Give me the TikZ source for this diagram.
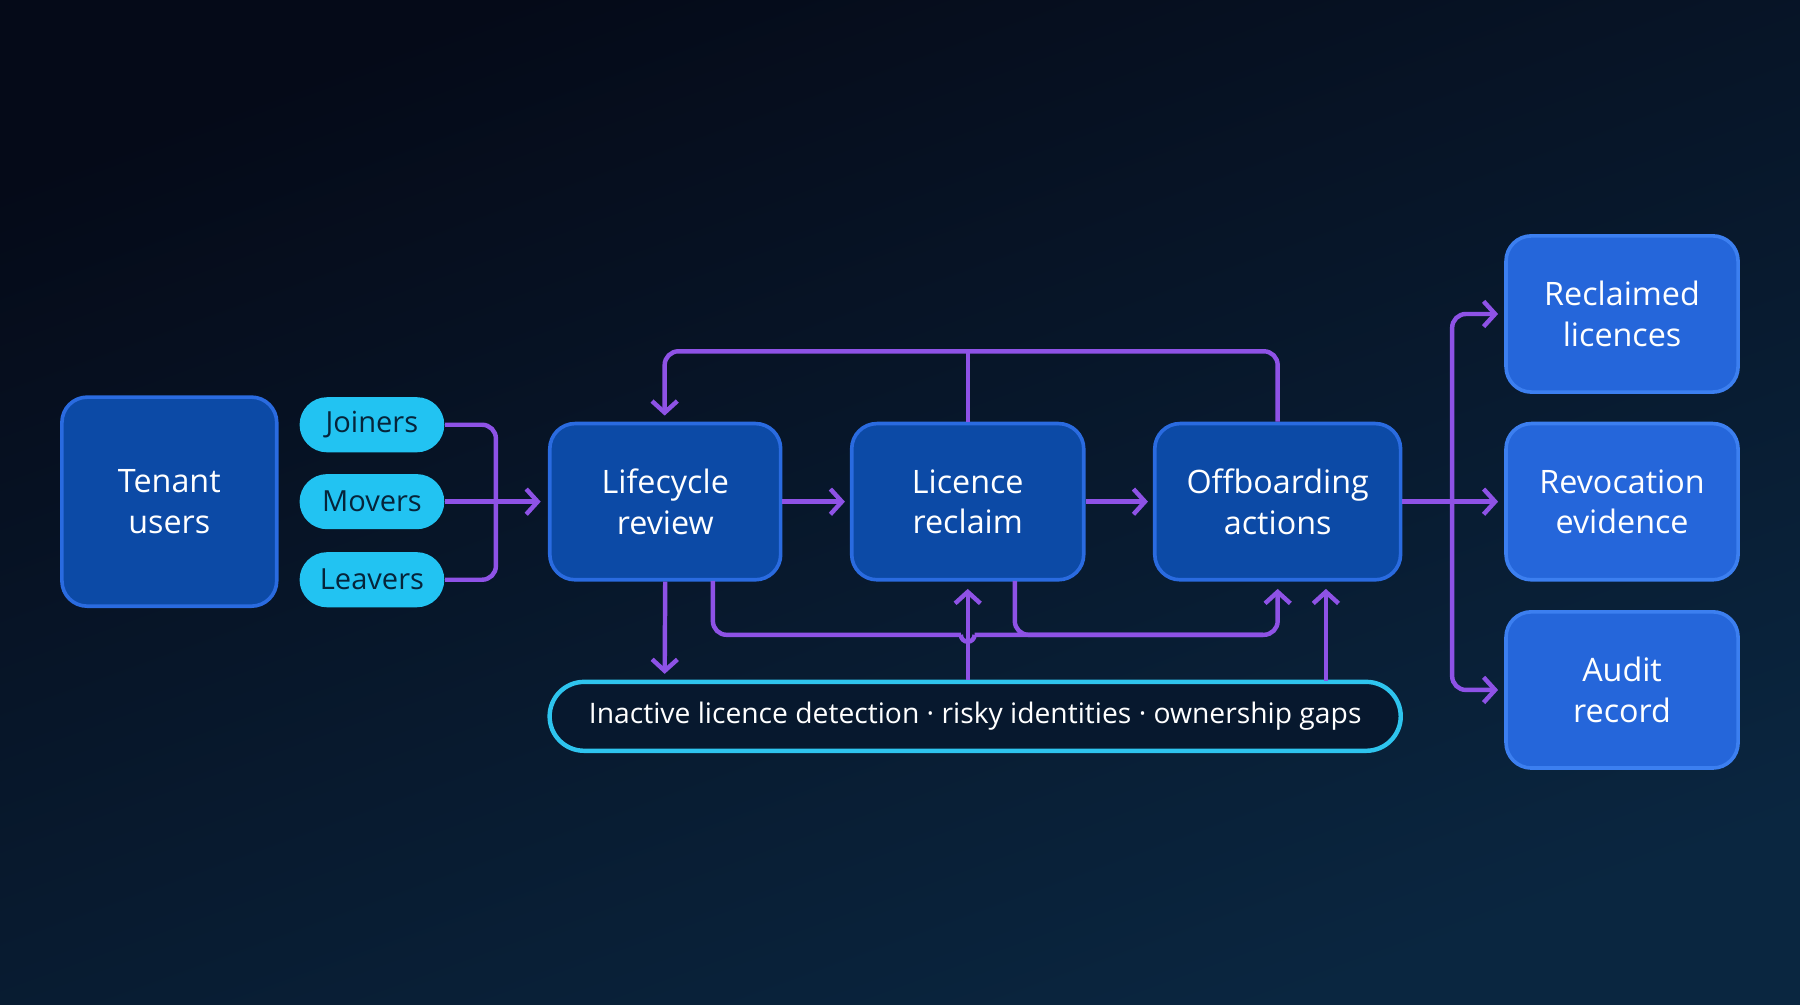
\documentclass[tikz,border=0pt]{standalone}
\usepackage{fontspec}
\setmainfont{Open Sans}
\usetikzlibrary{positioning}
\usetikzlibrary{arrows.meta}
\definecolor{bgtop}{HTML}{050A18}
\definecolor{bgbot}{HTML}{0A2640}
\definecolor{boxfill}{HTML}{0C4AA6}
\definecolor{boxline}{HTML}{2A6BE0}
\definecolor{outfill}{HTML}{2566DA}
\definecolor{outline}{HTML}{3C7FF0}
\definecolor{pillfill}{HTML}{22C3F2}
\definecolor{pilltext}{HTML}{06243A}
\definecolor{flow}{HTML}{8E52E6}
\definecolor{barline}{HTML}{2EC4EE}
\definecolor{barfill}{HTML}{07182E}

\begin{document}
\begin{tikzpicture}[
    x=0.01cm, y=-0.01cm,
    font=\fontsize{8pt}{10pt}\selectfont
]
\tikzset{
    stepbox/.style = {rectangle, rounded corners=2.2mm, draw=boxline, line width=0.9pt,
                      fill=boxfill, text=white, align=center, inner sep=0pt},
    outbox/.style  = {rectangle, rounded corners=2.2mm, draw=outline, line width=0.9pt,
                      fill=outfill, text=white, align=center, inner sep=0pt,
                      minimum width=2.02cm, minimum height=1.36cm},
    pill/.style    = {rectangle, rounded corners=2.4mm, fill=pillfill, text=pilltext,
                      minimum width=1.26cm, minimum height=0.48cm, inner sep=0pt,
                      font=\fontsize{7.2pt}{9pt}\selectfont},
    edgen/.style   = {draw=flow, line width=1.1pt, rounded corners=1.2mm},
    edgea/.style   = {edgen, -{Straight Barb[length=1mm,width=2.2mm]}}
}
% background
\shade[top color=bgtop, bottom color=bgbot, shading angle=20] (0,0) rectangle (1568,875);
\useasboundingbox (0,0) rectangle (1568,875);

% nodes
\node[stepbox, minimum width=1.87cm, minimum height=1.82cm] at (147.5,437) (tenant) {Tenant\\users};
\node[pill] at (324,370) (joiners) {Joiners};
\node[pill] at (324,437) (movers)  {Movers};
\node[pill] at (324,505) (leavers) {Leavers};
\node[stepbox, minimum width=2.01cm, minimum height=1.36cm] at (579.5,437) (review)  {Lifecycle\\review};
\node[stepbox, minimum width=2.02cm, minimum height=1.36cm] at (843,437)   (reclaim) {Licence\\reclaim};
\node[stepbox, minimum width=2.14cm, minimum height=1.36cm] at (1113,437)  (offboard) {Offboarding\\actions};
\node[outbox] at (1413,273.5) (reclaimed)  {Reclaimed\\licences};
\node[outbox] at (1413,437)   (revocation) {Revocation\\evidence};
\node[outbox] at (1413,601)   (audit)      {Audit\\record};
\node[rectangle, rounded corners=3mm, draw=barline, line width=1.1pt, fill=barfill,
      text=white, minimum width=7.41cm, minimum height=0.6cm, inner sep=0pt,
      font=\fontsize{7pt}{9pt}\selectfont] at (849.5,624) (signals)
      {Inactive licence detection · risky identities · ownership gaps};

% helper points
\coordinate (merge) at (432,437);
\coordinate (fan) at (1265,437);

% inputs
\draw[edgen] (joiners.east) -| (merge);
\draw[edgen] (leavers.east) -| (merge);
\draw[edgea] (movers.east) -- (471,437);

% main flow
\draw[edgea] (review.east) -- (736,437);
\draw[edgea] (reclaim.east) -- (1000,437);

% feedback loop on top
\draw[edgea] (offboard.north) |- (843,306) -| (579,362);
\draw[edgen] (reclaim.north) -- (843,306);

% loops underneath
\draw[edgea] (review.south) -- (579,587);
\draw[edgen] (621,506) |- (837,553);
\draw[edgen] (837,553) arc[start angle=180, end angle=0, radius=6];
\draw[edgea] (849,553) -- (1113,553) -- (1113,513);
\draw[edgen] (884,506) |- (1100,553);
\draw[edgea] (signals.north -| reclaim.south) -- (843,513);
\draw[edgea] (1155,593) -- (1155,513);

% outputs
\draw[edgen] (offboard.east) -- (fan);
\draw[edgea] (fan) |- (1305,273.5);
\draw[edgea] (fan) -- (1305,437);
\draw[edgea] (fan) |- (1305,601);
\end{tikzpicture}
\end{document}
